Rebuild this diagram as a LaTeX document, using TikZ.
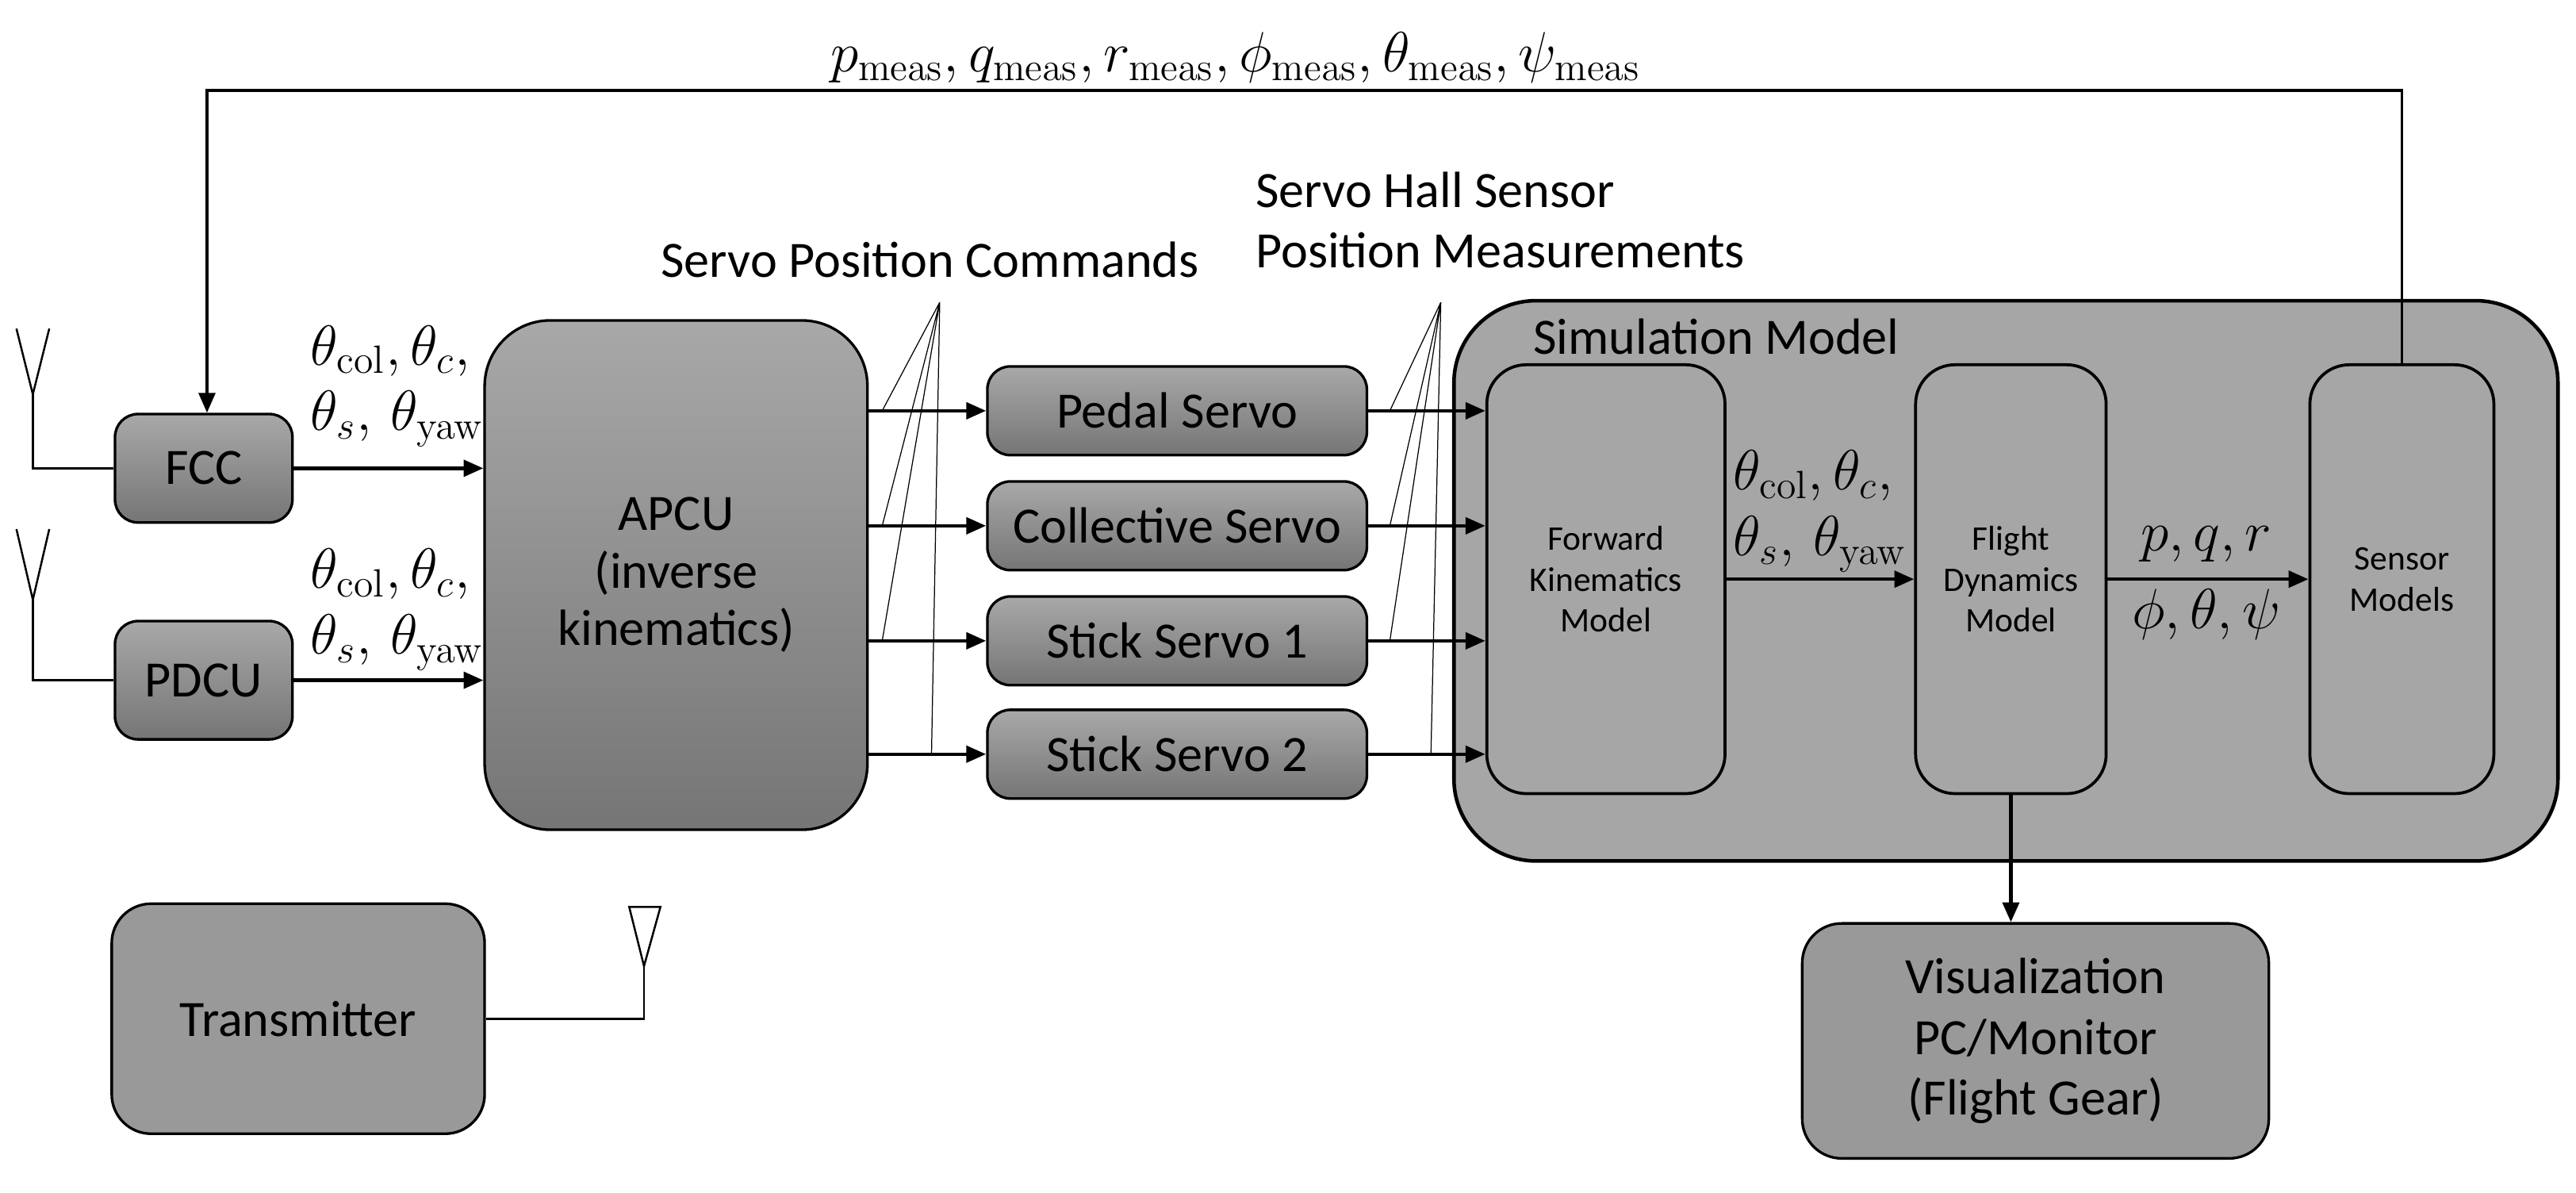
\documentclass[tikz,border=0pt]{standalone}
\usepackage{fontspec}
\setmainfont{Carlito}
\usetikzlibrary{arrows.meta}
\DeclareMathAlphabet{\mysub}{OT1}{cmr}{m}{n}
\begin{document}
\begin{tikzpicture}[x=0.5pt,y=-0.5pt,
  grad/.style={draw=black,line width=0.8pt,rounded corners=7pt,top color=black!34,bottom color=black!54,font=\fontsize{15.5}{17.5}\selectfont,align=center,inner sep=0pt},
  flat/.style={draw=black,line width=0.9pt,rounded corners=12pt,fill=black!35,font=\fontsize{10.5}{12.5}\selectfont,align=center,inner sep=0pt},
  flat2/.style={draw=black,line width=0.8pt,rounded corners=12pt,fill=black!40,font=\fontsize{15.5}{18.5}\selectfont,align=center,inner sep=0pt},
  arr/.style={line width=1.1pt,-{Triangle[length=6pt,width=5pt]}},
  thin/.style={line width=0.3pt},
  lab/.style={font=\fontsize{15.5}{18.5}\selectfont,inner sep=0pt},
  mlab/.style={font=\fontsize{16.5}{20}\selectfont,inner sep=0pt}]
\useasboundingbox (0,0) rectangle (1568,726);
% nodes
\node[grad,minimum width=54pt,minimum height=33pt] (fcc) at (124,285) {FCC};
\node[grad,minimum width=54pt,minimum height=36pt] (pdcu) at (124,414) {PDCU};
\node[grad,rounded corners=20pt,minimum width=116.5pt,minimum height=155pt] (apcu) at (411.5,350) {APCU\\(inverse\\kinematics)};
\node[grad,minimum width=115.5pt,minimum height=27pt] (ps) at (716.5,250) {Pedal Servo};
\node[grad,minimum width=115.5pt,minimum height=27pt] (cs) at (716.5,320) {Collective Servo};
\node[grad,minimum width=115.5pt,minimum height=27pt] (s1) at (716.5,390) {Stick Servo 1};
\node[grad,minimum width=115.5pt,minimum height=27pt] (s2) at (716.5,459) {Stick Servo 2};
\node[flat2,rounded corners=25pt,line width=1.1pt,fill=black!35,minimum width=336pt,minimum height=170.5pt] (sim) at (1221,353.5) {};
\node[lab,anchor=west] (simlab) at (933,205) {Simulation Model};
\node[flat,minimum width=72.5pt,minimum height=130.5pt] (fk) at (977.5,352.5) {Forward\\Kinematics\\Model};
\node[flat,minimum width=58pt,minimum height=130.5pt] (fd) at (1224,352.5) {Flight\\Dynamics\\Model};
\node[flat,minimum width=56pt,minimum height=130.5pt] (sm) at (1462,352.5) {Sensor\\Models};
\node[flat2,minimum width=142pt,minimum height=71.5pt] (vis) at (1239,633.5) {Visualization\\PC/Monitor\\(Flight Gear)};
\node[flat2,minimum width=113.5pt,minimum height=70pt] (tx) at (181.5,620) {Transmitter};
% labels
\node[mlab] (top) at (752,35) {$p_{\mysub{meas}}, q_{\mysub{meas}}, r_{\mysub{meas}}, \phi_{\mysub{meas}}, \theta_{\mysub{meas}}, \psi_{\mysub{meas}}$};
\node[mlab,align=left] (l1) at (242,235) {$\theta_{\mysub{col}},\theta_c,$\\$\theta_s,\,\theta_{\mysub{yaw}}$};
\node[mlab,align=left] (l2) at (242,371) {$\theta_{\mysub{col}},\theta_c,$\\$\theta_s,\,\theta_{\mysub{yaw}}$};
\node[mlab,align=left] (l3) at (1108,311) {$\theta_{\mysub{col}},\theta_c,$\\$\theta_s,\,\theta_{\mysub{yaw}}$};
\node[mlab] (pqr) at (1343,331) {$p,q,r$};
\node[mlab] (phi) at (1343,374) {$\phi,\theta,\psi$};
\node[lab] (spc) at (566,158) {Servo Position Commands};
\node[lab,align=left,anchor=west] (shs) at (764,134) {Servo Hall Sensor\\Position Measurements};
% antennas
\coordinate (a1) at (20,240); \coordinate (a2) at (20,365);
\draw[line width=0.6pt] (10,200) -- (a1) -- (30,200);
\draw[line width=0.6pt] (a1) |- (fcc.west);
\draw[line width=0.6pt] (10,322) -- (a2) -- (30,322);
\draw[line width=0.6pt] (a2) |- (pdcu.west);
\coordinate (a3) at (392,588);
\draw[line width=0.6pt] (383,552) -- (402,552) -- (a3) -- cycle;
\draw[line width=0.6pt] (tx.east) -| (a3);
% arrows
\draw[arr] (fcc.east) -- (fcc.east -| apcu.west);
\draw[arr] (pdcu.east) -- (pdcu.east -| apcu.west);
\foreach \s in {ps,cs,s1,s2}{
  \draw[arr] (\s.west -| apcu.east) -- (\s.west);
  \draw[arr] (\s.east) -- (\s.east -| fk.west);
}
\draw[arr] (fk.east) -- (fd.west);
\draw[arr] (fd.east) -- (sm.west);
\draw[arr] (fd.south) -- (fd.south |- vis.north);
\coordinate (t1) at (1462,55); \coordinate (t2) at (126,55);
\draw[arr,line width=0.9pt] (sm.north) -- (t1) -- (t2) -- (t2 |- fcc.north);
% fan lines
\coordinate (f1) at (572,184); \coordinate (f2) at (877,184);
\draw[thin] (f1) -- (537,250) (f1) -- (537,320) (f1) -- (537,390) (f1) -- (567,459);
\draw[thin] (f2) -- (846,250) (f2) -- (846,320) (f2) -- (846,390) (f2) -- (871,459);
\end{tikzpicture}
\end{document}
